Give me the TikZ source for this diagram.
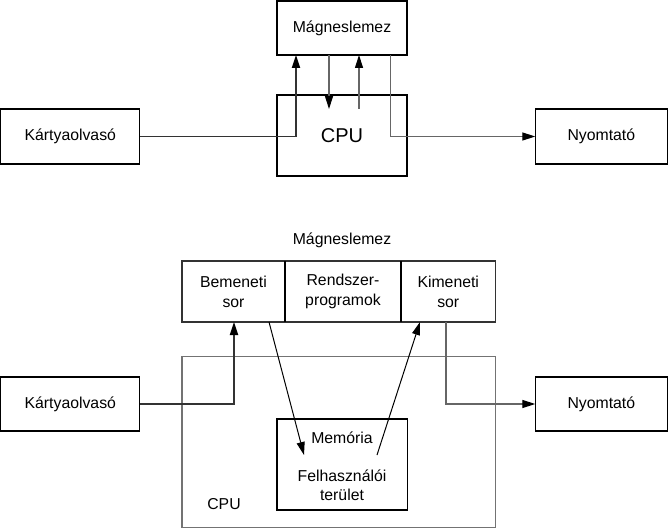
\documentclass[tikz,border=0pt]{standalone}
\usepackage{fontspec}
\setmainfont{Liberation Sans}
\usetikzlibrary{arrows.meta}
\begin{document}
\begin{tikzpicture}[x=1pt,y=-1pt,
  box/.style={draw, line width=1.1pt, inner sep=0pt, outer sep=0pt, font=\fontsize{15.8}{20}\selectfont, align=center},
  lbl/.style={inner sep=0pt, font=\fontsize{15.8}{19}\selectfont, align=center},
  arr/.style={line width=1pt, -{Triangle[length=13pt,width=8pt]}},
  grayarr/.style={line width=1.1pt, draw=black!60, -{Triangle[length=13pt,width=8pt,color=black,fill=black]}},
  thickarr/.style={line width=1.8pt, draw=black!80, -{Triangle[length=13pt,width=8pt,color=black,fill=black]}}]
\useasboundingbox (0,0) rectangle (668,529);
% ---------- top diagram ----------
\node[box, minimum width=139pt, minimum height=55pt] (kartya1) at (70.3,136.5) {Kártyaolvasó};
\node[box, minimum width=130pt, minimum height=54pt] (mag1) at (342,28) {Mágneslemez};
\node[box, line width=1.6pt, minimum width=130pt, minimum height=81pt, font=\fontsize{20}{24}\selectfont] (cpu1) at (342,135.5) {CPU};
\node[box, minimum width=132pt, minimum height=55pt] (nyom1) at (601.3,136.5) {Nyomtató};
\draw[thickarr] (kartya1.east) -| ([xshift=19pt]mag1.south west);
\draw[grayarr] ([xshift=52pt]mag1.south west) -- ([xshift=52pt,yshift=-14pt]cpu1.north west);
\draw[grayarr] ([xshift=82pt,yshift=-14pt]cpu1.north west) -- ([xshift=82pt]mag1.south west);
\draw[grayarr] ([xshift=113.5pt]mag1.south west) |- (nyom1.west);
% ---------- bottom diagram ----------
\node[lbl] (magtitle) at (342,240) {Mágneslemez};
\node[box, draw=black!80, line width=1.2pt, minimum width=103pt, minimum height=61pt] (bem) at (233.5,291.5) {Bemeneti\\sor};
\node[box, draw=black!80, line width=1.2pt, minimum width=116pt, minimum height=61pt] (rend) at (343,291.5) {Rendszer-\\programok};
\node[box, draw=black!80, line width=1.2pt, minimum width=94.5pt, minimum height=61pt] (kim) at (448.25,291.5) {Kimeneti\\sor};
\draw[line width=1.2pt] (rend.north west) -- (rend.south west) (rend.north east) -- (rend.south east);
\node[box, draw=black!55, line width=1.6pt, minimum width=313.5pt, minimum height=171pt] (cpu2) at (338.75,442) {};
\node[lbl] (cpulbl) at (224,504) {CPU};
\node[box, minimum width=130.5pt, minimum height=91pt] (mem) at (342.25,464.5) {};
\node[lbl] (memlbl) at (342,438) {Memória};
\node[lbl] (felh) at (342,485) {Felhasználói\\terület};
\node[box, minimum width=139pt, minimum height=54pt] (kartya2) at (70.3,404) {Kártyaolvasó};
\node[box, minimum width=132pt, minimum height=54pt] (nyom2) at (601.3,404) {Nyomtató};
\draw[thickarr] (kartya2.east) -| ([xshift=52pt]bem.south west);
\draw[arr] ([xshift=87pt]bem.south west) -- ([xshift=27pt,yshift=-36pt]mem.north west);
\draw[arr] ([xshift=100pt,yshift=-36pt]mem.north west) -- ([xshift=19pt]kim.south west);
\draw[grayarr] ([xshift=45pt]kim.south west) |- (nyom2.west);
\end{tikzpicture}
\end{document}
